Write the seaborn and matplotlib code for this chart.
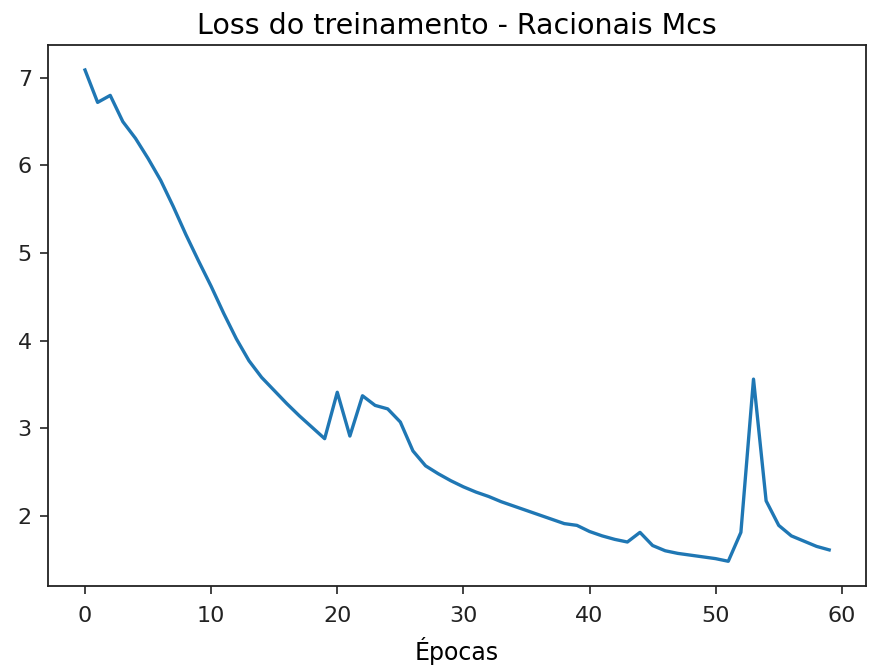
import matplotlib
matplotlib.use("Agg")
import matplotlib.pyplot as plt
import seaborn as sns
import pandas as pd

epochs = list(range(60))
loss = [7.09, 6.72, 6.80, 6.50, 6.31, 6.08, 5.83, 5.53, 5.21, 4.91,
        4.62, 4.31, 4.02, 3.77, 3.58, 3.43, 3.28, 3.14, 3.01, 2.88,
        3.41, 2.91, 3.37, 3.26, 3.22, 3.07, 2.74, 2.57, 2.48, 2.40,
        2.33, 2.27, 2.22, 2.16, 2.11, 2.06, 2.01, 1.96, 1.91, 1.89,
        1.82, 1.77, 1.73, 1.70, 1.81, 1.66, 1.60, 1.57, 1.55, 1.53,
        1.51, 1.48, 1.81, 3.56, 2.17, 1.89, 1.77, 1.71, 1.65, 1.61]
title = "Loss do treinamento - Racionais Mcs"
xlabel = "Épocas"

df = pd.DataFrame({"epoca": epochs, "loss": loss})

plt.rcParams["font.family"] = ["DejaVu Sans"]
fig = plt.figure(figsize=(8.69, 6.68), dpi=100)
ax = fig.add_axes([0.055, 0.123, 0.942, 0.809])
sns.lineplot(data=df, x="epoca", y="loss", ax=ax, color="#1f77b4", linewidth=2.4)
ax.set_title(title, fontsize=20.5, pad=8)
ax.set_xlabel(xlabel, fontsize=17, labelpad=8)
ax.set_ylabel("")
ax.set_xticks([0, 10, 20, 30, 40, 50, 60])
ax.set_yticks([2, 3, 4, 5, 6, 7])
ax.tick_params(labelsize=16, length=5.5, width=1.2, pad=6, colors="#222222")
ax.tick_params(axis="x", pad=9)
for s in ax.spines.values():
    s.set_linewidth(1.3)
    s.set_color("#222222")
fig.savefig("out.png", dpi=100)
